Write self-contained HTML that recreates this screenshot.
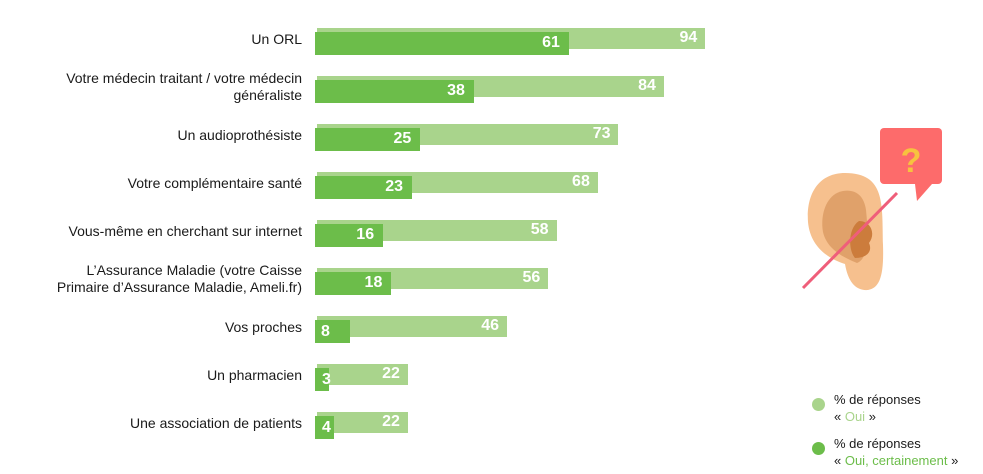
<!DOCTYPE html>
<html><head><meta charset="utf-8"><style>
html,body{margin:0;padding:0;background:#fff;}
body{width:983px;height:474px;position:relative;overflow:hidden;font-family:"Liberation Sans",Arial,sans-serif;}
.lab{position:absolute;right:681px;text-align:right;font-size:14px;color:#1a1a1a;line-height:17px;}
.l{position:absolute;left:317px;height:21px;background:#a9d48c;}
.d{position:absolute;left:315px;height:23px;background:#6cbd4a;}
.v{position:absolute;color:#fff;font-weight:bold;font-size:16px;line-height:20px;}
.lg{position:absolute;left:834px;font-size:13px;color:#1a1a1a;line-height:17px;}
.dot{position:absolute;width:13px;height:13px;border-radius:50%;}
</style></head><body>
<div id="c"></div>
<script>
var rows=[["Un ORL",94,61],["Votre médecin traitant / votre médecin<br>généraliste",84,38],["Un audioprothésiste",73,25],["Votre complémentaire santé",68,23],["Vous-même en cherchant sur internet",58,16],["L’Assurance Maladie (votre Caisse<br>Primaire d’Assurance Maladie, Ameli.fr)",56,18],["Vos proches",46,8],["Un pharmacien",22,3],["Une association de patients",22,4]];
var h="",k=4.13;
rows.forEach(function(r,i){
 var t=28+48*i, two=r[0].indexOf("<br>")>0;
 h+='<div class="lab" style="top:'+(two?t-6:t+3)+'px">'+r[0]+'</div>';
 var lw=r[1]*k, dw=r[2]*k+2;
 h+='<div class="l" style="top:'+t+'px;width:'+lw+'px"></div>';
 h+='<div class="d" style="top:'+(t+4)+'px;width:'+dw+'px"></div>';
 h+='<div class="v" style="top:'+(t)+'px;right:'+(983-317-lw+8)+'px">'+r[1]+'</div>';
 if(r[2]>8) h+='<div class="v" style="top:'+(t+5)+'px;right:'+(983-315-dw+9)+'px">'+r[2]+'</div>';
 else h+='<div class="v" style="top:'+(t+6)+'px;left:'+(r[2]<5?322:321)+'px">'+r[2]+'</div>';
});
document.getElementById("c").innerHTML=h;
</script>
<svg style="position:absolute;left:795px;top:120px" width="160" height="180" viewBox="795 120 160 180">
 <rect x="880" y="128" width="62" height="56" rx="4" fill="#fd6b6b"/>
 <polygon points="915,184 932,184 917,201" fill="#fd6b6b"/>
 <text x="911" y="172" font-family="Liberation Sans,sans-serif" font-size="34" font-weight="bold" fill="#f7c23f" text-anchor="middle">?</text>
 <path d="M845 173 C818 173 806 195 808 222 C810 245 826 258 845 264 C848 282 856 291 868 290 C880 288 884 275 883 245 C882 205 886 173 845 173 Z" fill="#f6c08e"/>
 <path d="M843 191 C826 194 820 215 823 232 C827 250 845 258 857 263 C870 258 868 230 866 210 C864 196 856 189 843 191 Z" fill="#e0a16a"/>
 <path d="M859 221 C848 228 848 250 855 258 C866 258 873 252 869 243 C876 234 871 221 859 221 Z" fill="#cc7c3c"/>
 <line x1="803" y1="288" x2="897" y2="193" stroke="#ef5e7a" stroke-width="3"/>
</svg>
<div class="dot" style="left:812px;top:398px;background:#a9d48c"></div>
<div class="lg" style="top:391px">% de réponses<br>« <span style="color:#a9d48c">Oui</span> »</div>
<div class="dot" style="left:812px;top:442px;background:#6cbd4a"></div>
<div class="lg" style="top:435px">% de réponses<br>« <span style="color:#6cbd4a">Oui, certainement</span> »</div>
</body></html>
